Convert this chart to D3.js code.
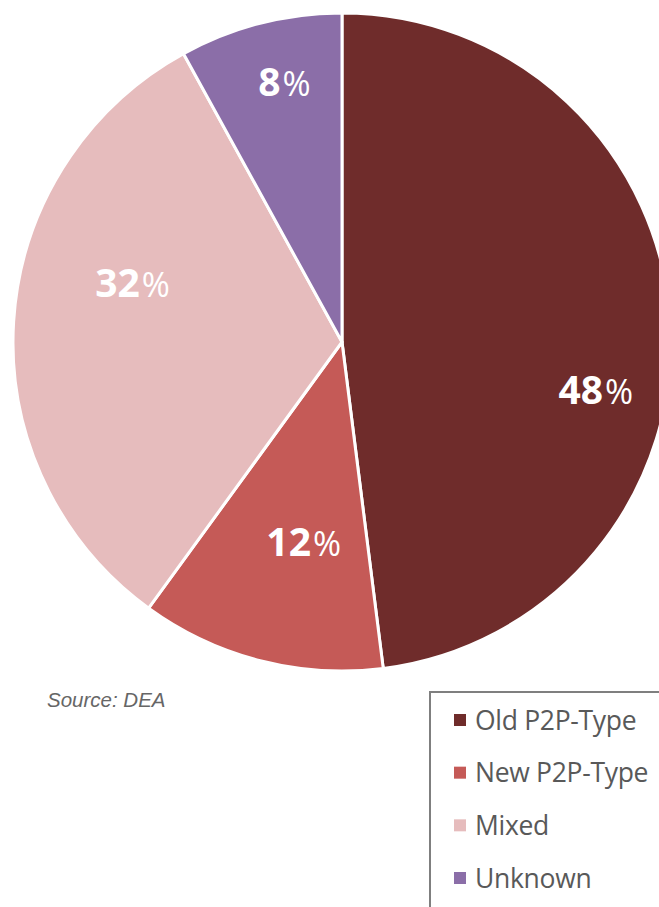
<!DOCTYPE html>
<html>
<head>
<meta charset="utf-8">
<script src="https://cdn.jsdelivr.net/npm/d3@7"></script>
<style>
  body { margin: 0; background: #fff; }
  svg { display: block; }
</style>
</head>
<body>
<svg width="659" height="907"></svg>
<script>
const categories = ['Old P2P-Type', 'New P2P-Type', 'Mixed', 'Unknown'];
const values = [48, 12, 32, 8];
const colors = ['#6F2C2B', '#C55A57', '#E6BCBD', '#8B6EA8'];
// label placement (Excel "best fit"): angle shift in degrees, radius fraction
const labelAngle = [16, -4, 10, 1.5];
const labelRadius = [0.79, 0.645, 0.655, 0.785];

const svg = d3.select('svg');
const cx = 342, cy = 342, r = 329;

const pie = d3.pie().sort(null).value(d => d);
const arcs = pie(values);
const arc = d3.arc().innerRadius(0).outerRadius(r);

const g = svg.append('g').attr('transform', `translate(${cx}, ${cy})`);

g.selectAll('path')
  .data(arcs)
  .join('path')
  .attr('d', arc)
  .attr('fill', (d, i) => colors[i])
  .attr('stroke', '#fff')
  .attr('stroke-width', 3)
  .attr('stroke-linejoin', 'round');

const labels = g.selectAll('text.lbl')
  .data(arcs)
  .join('text')
  .attr('class', 'lbl')
  .attr('transform', (d, i) => {
    const a = (d.startAngle + d.endAngle) / 2 + labelAngle[i] * Math.PI / 180;
    const rr = r * labelRadius[i];
    return `translate(${rr * Math.sin(a)}, ${-rr * Math.cos(a)})`;
  })
  .attr('text-anchor', 'middle')
  .attr('dy', '0.36em')
  .attr('fill', '#fff')
  .style('font-family', '"Open Sans", sans-serif');

labels.append('tspan')
  .attr('font-size', 39)
  .attr('font-weight', 'bold')
  .text(d => d.data);
labels.append('tspan')
  .attr('font-size', 34)
  .attr('dx', 2)
  .text('%');

svg.append('text')
  .attr('x', 47)
  .attr('y', 707)
  .attr('fill', '#666')
  .attr('font-size', 20.5)
  .attr('font-style', 'italic')
  .style('font-family', '"Liberation Sans", Arial, sans-serif')
  .text('Source: DEA');

// legend
const legend = svg.append('g');
legend.append('rect')
  .attr('x', 430)
  .attr('y', 692)
  .attr('width', 260)
  .attr('height', 240)
  .attr('fill', '#fff')
  .attr('stroke', '#7f7f7f')
  .attr('stroke-width', 2);

const rowY = d3.scalePoint().domain(categories).range([720, 878]);

const items = legend.selectAll('g.item')
  .data(categories)
  .join('g')
  .attr('class', 'item')
  .attr('transform', d => `translate(454, ${rowY(d)})`);

items.append('rect')
  .attr('x', 0)
  .attr('y', -6)
  .attr('width', 12)
  .attr('height', 12)
  .attr('fill', (d, i) => colors[i]);

items.append('text')
  .attr('x', 21)
  .attr('dy', '0.36em')
  .attr('fill', '#595959')
  .attr('font-size', 26.5)
  .style('font-family', '"Open Sans", sans-serif')
  .style('letter-spacing', '-0.3px')
  .text(d => d);
</script>
</body>
</html>
